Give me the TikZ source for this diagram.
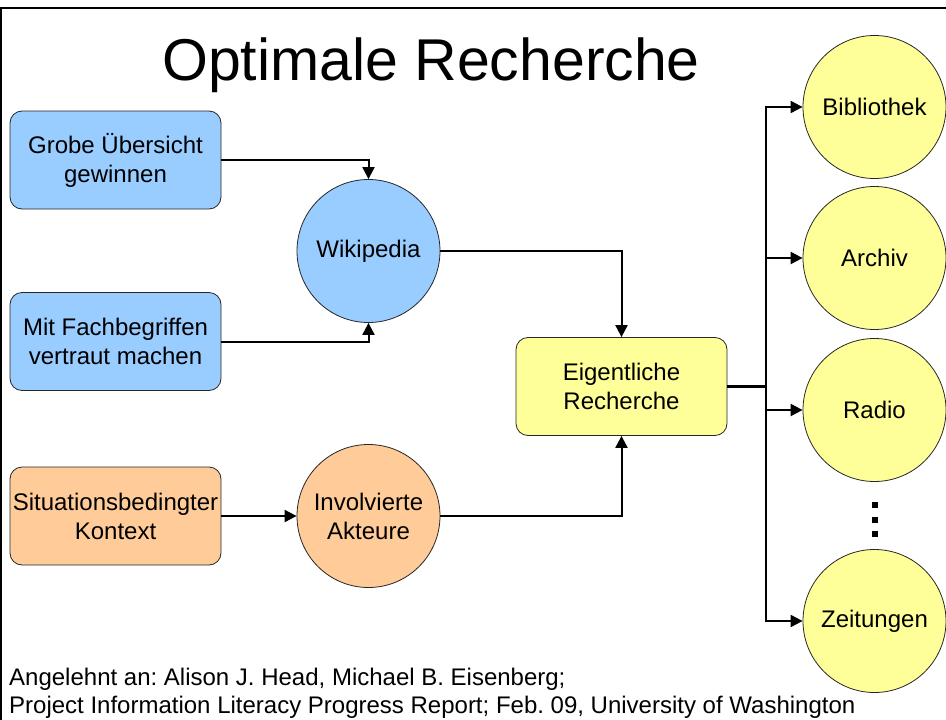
\documentclass[tikz,border=0pt]{standalone}
\usepackage{fontspec}
\setmainfont{Liberation Sans}
\usetikzlibrary{arrows.meta}
\definecolor{bluef}{HTML}{99CCFF}
\definecolor{orangef}{HTML}{FFCC99}
\definecolor{yellowf}{HTML}{FFFF99}
\frenchspacing
\begin{document}
\begin{tikzpicture}[x=1pt,y=-1pt,
  lbl/.style={font=\fontsize{24}{29}\selectfont, align=center},
  rbox/.style={lbl, draw=black!85, line width=0.8pt, rounded corners=12pt,
    minimum width=211pt, minimum height=98pt, inner sep=0pt},
  circ/.style={lbl, circle, draw=black!85, line width=0.8pt, minimum size=143pt, inner sep=0pt},
  conn/.style={line width=2pt},
  arr/.style={conn, -{Triangle[length=12pt,width=12pt]}},
  frame/.style={line width=2.7pt}
]
\useasboundingbox (0,0) rectangle (946,720);
% frame
\draw[frame] (0,8) -- (946,8);
\draw[line width=2.2pt] (1.1,8) -- (1.1,720);
% title
\node[anchor=base, font=\fontsize{59}{70}\selectfont, inner sep=0pt] (title) at (431,80) {Optimale Recherche};
% nodes
\node[rbox, fill=bluef] (b1) at (115.5,160) {Grobe Übersicht\\gewinnen};
\node[rbox, fill=bluef] (b2) at (115.5,341.5) {Mit Fachbegriffen\\vertraut machen};
\node[rbox, fill=orangef] (b3) at (115.5,516) {Situationsbedingter\\Kontext};
\node[circ, fill=bluef] (wiki) at (368.5,251) {Wikipedia};
\node[circ, fill=orangef] (inv) at (368.5,516) {Involvierte\\Akteure};
\node[rbox, fill=yellowf] (eig) at (621.5,386.5) {Eigentliche\\Recherche};
\node[circ, fill=yellowf] (bib) at (874.5,107) {Bibliothek};
\node[circ, fill=yellowf] (arc) at (874.5,258) {Archiv};
\node[circ, fill=yellowf] (rad) at (874.5,410) {Radio};
\node[circ, fill=yellowf] (zei) at (874.5,621) {Zeitungen};
% dots
\foreach \yy in {505,520,534} \fill (871.5,\yy-3) rectangle (877.5,\yy+3);
% connectors
\draw[arr] (b1.east) -| (wiki.north);
\draw[arr] (b2.east) -| (wiki.south);
\draw[arr] (wiki.east) -| (eig.north);
\draw[arr] (b3.east) -- (inv.west);
\draw[arr] (inv.east) -| (eig.south);
\coordinate (bus) at (766,386.5);
\draw[line width=3pt] (eig.east) -- (bus);
\draw[arr] (bus) |- (bib.west);
\draw[arr] (bus) |- (arc.west);
\draw[arr] (bus) |- (rad.west);
\draw[arr] (bus) |- (zei.west);
% footer
\node[anchor=base west, font=\fontsize{24}{28}\selectfont, inner sep=0pt] (f1) at (9,685) {Angelehnt an: Alison J. Head, Michael B. Eisenberg;};
\node[anchor=base west, font=\fontsize{24}{28}\selectfont, inner sep=0pt] (f2) at (9,713) {Project Information Literacy Progress Report; Feb. 09, University of Washington};
\end{tikzpicture}
\end{document}
